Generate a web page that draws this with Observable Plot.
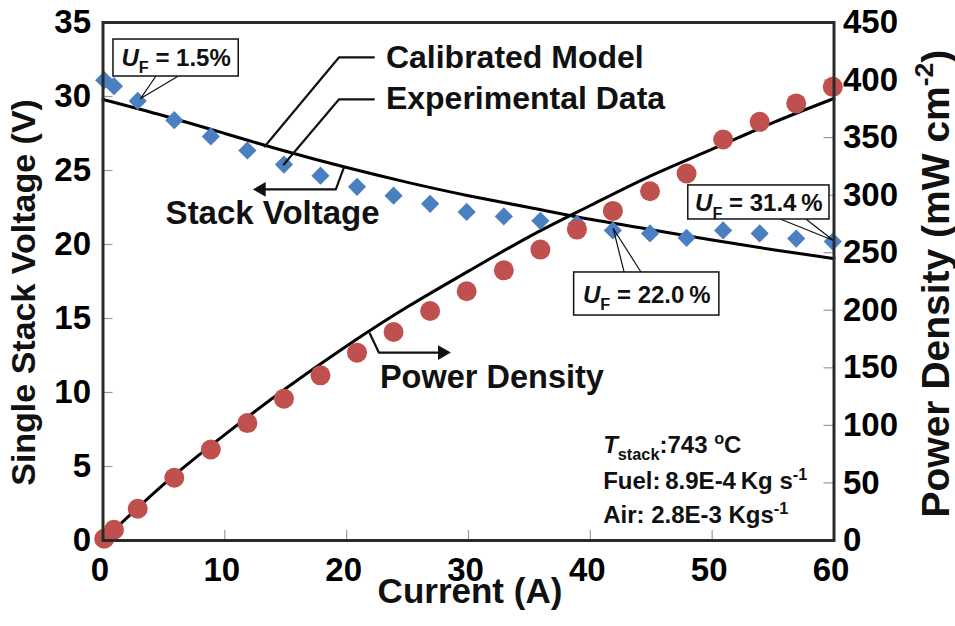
<!DOCTYPE html>
<html>
<head>
<meta charset="utf-8">
<script src="https://cdn.jsdelivr.net/npm/d3@7"></script>
<script src="https://cdn.jsdelivr.net/npm/@observablehq/plot@0.6"></script>
<style>
  html, body { margin: 0; padding: 0; background: white; }
</style>
</head>
<body>
<div id="chart"></div>
<script>
// ---- data ----
const currentA = [0.1, 0.9, 2.85, 5.85, 8.85, 11.85, 14.85, 17.85, 20.85, 23.85, 26.85, 29.85, 32.9, 35.9, 38.9, 41.85, 44.9, 47.9, 50.9, 53.9, 56.9, 59.9];
const stackVoltage = [31.1, 30.7, 29.7, 28.4, 27.3, 26.35, 25.4, 24.65, 23.9, 23.3, 22.75, 22.2, 21.9, 21.6, 21.4, 20.95, 20.75, 20.45, 20.95, 20.75, 20.4, 20.2];
const powerDensity = [1.5, 9.3, 27.6, 54.5, 79.1, 102, 123.2, 143.5, 163.2, 181.1, 199.4, 216.5, 234.7, 252.7, 270.1, 286.3, 303.4, 318.8, 348.4, 363.7, 379.7, 394.1];

const modelCurrent = [0, 5, 10, 15, 20, 25, 30, 35, 40, 45, 50, 55, 60];
const modelVoltage = [29.8, 28.7, 27.5, 26.3, 25.2, 24.2, 23.3, 22.5, 21.7, 21.0, 20.3, 19.65, 19.05];
const modelPower = [0, 49, 92, 132, 169, 203, 234, 264, 291, 317, 340, 363, 384];

const currentTicks = [0, 10, 20, 30, 40, 50, 60];
const voltageTicks = [0, 5, 10, 15, 20, 25, 30, 35];
const powerTicks = [0, 50, 100, 150, 200, 250, 300, 350, 400, 450];

// ---- annotation layout (data coordinates) ----
const k = 35 / 450; // power -> voltage-axis units
const exp = currentA.map((c, i) => ({c, v: stackVoltage[i], p: powerDensity[i]}));
const model = modelCurrent.map((c, i) => ({c, v: modelVoltage[i], p: modelPower[i]}));

const bigLabels = [
  {x: 23.22, y: 32.64, t: "Calibrated Model", s: 32},
  {x: 23.22, y: 29.86, t: "Experimental Data", s: 32},
  {x: 5.14, y: 22.09, t: "Stack Voltage", s: 33},
  {x: 22.73, y: 11.01, t: "Power Density", s: 32.5}
];
const leaderLines = [
  {id: "cal", pts: [[22.23, 32.64], [19.36, 32.64], [13.27, 26.62]]},
  {id: "exp", pts: [[22.23, 29.80], [19.36, 29.80], [14.84, 25.41]]},
  {id: "sv", pts: [[19.77, 25.20], [19.11, 23.72], [13.2, 23.72]]},
  {id: "pd", pts: [[21.9, 13.99], [22.64, 12.70], [27.7, 12.70]]}
];
const arrowHeads = [
  {x: 13.0, y: 23.72, r: -90},
  {x: 27.85, y: 12.70, r: 90}
];
const ufBoxes = [
  {x1: 0.86, x2: 11.14, y1: 31.35, y2: 33.85, cx: 6.0, cy: 32.6, t: "i:U|b:F| = 1.5%",
   ptr: [[4.32, 31.35], [3.08, 29.86], [6.12, 31.35]]},
  {x1: 48.04, x2: 59.63, y1: 21.69, y2: 23.99, cx: 53.83, cy: 22.75, t: "i:U|b:F| = 31.4\u2009%",
   ptr: [[55.68, 21.69], [59.96, 20.27], [57.74, 21.69]]},
  {x1: 38.67, x2: 50.59, y1: 15.20, y2: 18.11, cx: 44.63, cy: 16.55, t: "i:U|b:F| = 22.0\u2009%",
   ptr: [[42.78, 18.11], [41.88, 21.08], [44.18, 18.11]]}
];
const infoLines = [
  {x: 41.05, y: 6.42, t: "i:T|b:stack|:743 |p:o|C"},
  {x: 41.05, y: 3.99, t: "Fuel:\u20098.9E-4\u2009Kg s|p:-1"},
  {x: 41.05, y: 1.69, t: "Air: 2.8E-3 Kgs|p:-1"}
];
const axisTitles = [
  {x: -6.45, y: 16.76, t: "Single Stack Voltage (V)", r: -90, s: 34},
  {x: 68.4, y: 17.36, t: "Power Density (mW cm|p:-2|)", r: -90, s: 39},
  {x: 30.12, y: -3.45, t: "Current (A)", r: 0, s: 35}
];

const W = 955, H = 626;
const mL = 102.5, mR = 121.5, mT = 22, mB = 86;
const pw = W - mL - mR, ph = H - mT - mB;

const leaderPts = leaderLines.flatMap(l => l.pts.map(([x, y]) => ({id: l.id, x, y})));
const ptrPts = ufBoxes.flatMap((b, i) => b.ptr.map(([x, y]) => ({id: i, x, y})));

const plot = Plot.plot({
  width: W, height: H,
  marginLeft: mL, marginRight: mR, marginTop: mT, marginBottom: mB,
  x: {domain: [0, 60]},
  y: {domain: [0, 35]},
  style: {fontFamily: "'Liberation Sans', Arial, sans-serif", fontWeight: "bold", fontSize: "33px", background: "white", overflow: "visible"},
  marks: [
    // inward ticks
    Plot.tickY(voltageTicks.slice(1, -1), {y: d => d, insetRight: pw - 10, stroke: "#999", strokeWidth: 1.2}),
    Plot.tickY(powerTicks.slice(1, -1), {y: d => d * k, insetLeft: pw - 10, stroke: "#999", strokeWidth: 1.2}),
    Plot.tickX(currentTicks.slice(1, -1), {x: d => d, insetTop: ph - 10, stroke: "#999", strokeWidth: 1.2}),
    // axes labels
    Plot.axisX(currentTicks, {tickSize: 0, tickPadding: 17, dx: -3, label: null, fontSize: 33, fontWeight: "bold"}),
    Plot.axisY(voltageTicks, {anchor: "left", tickSize: 0, tickPadding: 12, label: null, fontSize: 33, fontWeight: "bold"}),
    Plot.axisY(powerTicks.map(p => p * k), {anchor: "right", tickSize: 0, tickPadding: 9, label: null, fontSize: 33, fontWeight: "bold",
      tickFormat: v => String(Math.round(v / k))}),
    // model curves
    Plot.line(model, {x: "c", y: "v", stroke: "black", strokeWidth: 3, curve: "natural"}),
    Plot.line(model, {x: "c", y: d => d.p * k, stroke: "black", strokeWidth: 3, curve: "natural"}),
    // experimental points
    Plot.dot(exp, {x: "c", y: "v", symbol: "diamond2", r: 8.2, fill: "#4a7fc1", stroke: "none"}),
    Plot.dot(exp, {x: "c", y: d => d.p * k, symbol: "circle", r: 10, fill: "#c0504d", stroke: "none"}),
    // leaders
    Plot.line(leaderPts, {x: "x", y: "y", z: "id", stroke: "#111", strokeWidth: 2.2, curve: "linear"}),
    Plot.dot(arrowHeads, {x: "x", y: "y", rotate: "r", symbol: "triangle", r: 5.5, fill: "#111", stroke: "none"}),
    Plot.text(bigLabels, {x: "x", y: "y", text: "t", fontSize: "s", textAnchor: "start", lineAnchor: "middle", fontWeight: "bold", fill: "#111"}),
    // UF callouts
    Plot.line(ptrPts, {x: "x", y: "y", z: "id", stroke: "#111", strokeWidth: 1.2}),
    Plot.rect(ufBoxes, {x1: "x1", x2: "x2", y1: "y1", y2: "y2", fill: "white", stroke: "#111", strokeWidth: 1.5}),
    Plot.text(ufBoxes, {x: "cx", y: "cy", text: "t", textAnchor: "middle", lineAnchor: "middle", fontSize: 24, fontWeight: "bold", fill: "#111"}),
    // conditions
    Plot.text(infoLines, {x: "x", y: "y", text: "t", textAnchor: "start", lineAnchor: "middle", fontSize: 24, fontWeight: "bold", fill: "#111"}),
    // axis titles
    Plot.text(axisTitles, {x: "x", y: "y", text: "t", rotate: "r", fontSize: "s", textAnchor: "middle", lineAnchor: "middle", fontWeight: "bold", fill: "#111"}),
    Plot.frame({stroke: "#2a2a2a", strokeWidth: 3})
  ]
});

document.getElementById("chart").appendChild(plot);

// rich text: parts separated by "|" ; i: italic, b: subscript, p: superscript
const svgns = "http://www.w3.org/2000/svg";
d3.select(plot).selectAll("text").each(function () {
  const el = this;
  const s = el.textContent;
  if (!s.includes("|")) return;
  const fs = parseFloat(getComputedStyle(el).fontSize) || 24;
  while (el.firstChild) el.removeChild(el.firstChild);
  let shift = 0;
  for (const part of s.split("|")) {
    if (!part) continue;
    let kind = "n", txt = part;
    if (/^[ibp]:/.test(part)) { kind = part[0]; txt = part.slice(2); }
    const t = document.createElementNS(svgns, "tspan");
    const target = kind === "b" ? 0.3 * fs : kind === "p" ? -0.4 * fs : 0;
    if (target - shift !== 0) t.setAttribute("dy", (target - shift).toFixed(2));
    shift = target;
    if (kind === "b" || kind === "p") t.setAttribute("font-size", (0.68 * fs).toFixed(1));
    if (kind === "i") t.setAttribute("font-style", "italic");
    t.textContent = txt;
    el.appendChild(t);
  }
});
</script>
</body>
</html>
